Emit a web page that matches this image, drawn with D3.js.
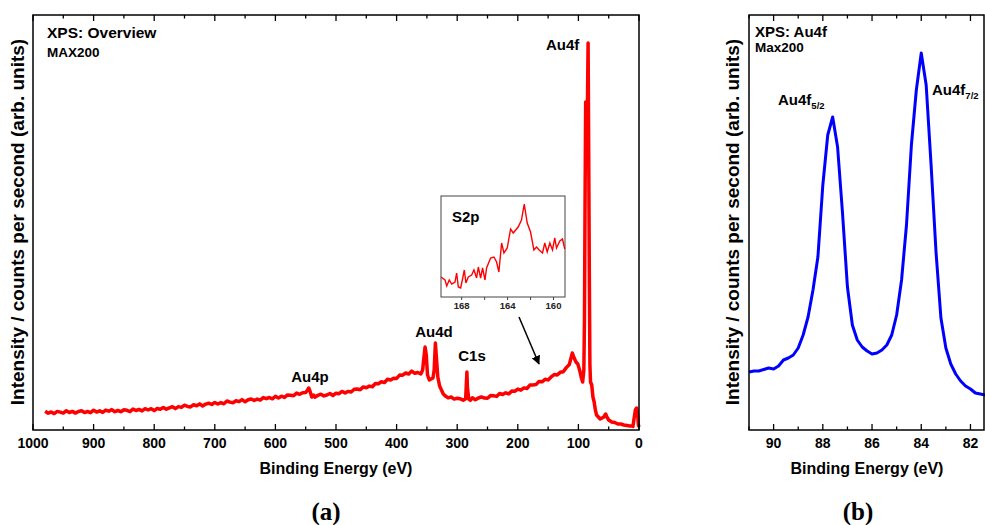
<!DOCTYPE html>
<html>
<head>
<meta charset="utf-8">
<script src="https://cdn.jsdelivr.net/npm/d3@7"></script>
<style>
  body { margin: 0; background: #fff; }
  svg text { font-family: "Liberation Sans", Arial, sans-serif; font-weight: bold; }
</style>
</head>
<body>
<svg id="chart" width="985" height="525"></svg>
<script>
// ---- DATA ----
// overview survey (binding energy in eV, counts in arb. units)
const overviewEnergy = [980,975,970,965,960,955,950,945,940,935,930,925,920,915,910,905,900,895,890,885,880,875,870,865,860,855,850,845,840,835,830,825,820,815,810,805,800,795,790,785,780,775,770,765,760,755,750,745,740,735,730,725,720,715,710,705,700,695,690,685,680,675,670,665,660,655,650,645,640,635,630,625,620,615,610,605,600,595,590,585,580,575,570,565,560,555,550,547,545,543,540,537,535,530,525,520,515,510,505,500,495,490,485,480,475,470,465,460,455,450,445,440,435,430,425,420,415,410,405,400,395,390,385,380,375,370,365,360,357,355,353,351,349,346,343,340,338,336,334,332,329,326,323,320,315,310,305,300,295,290,286,285,284,283,281,278,275,270,265,260,255,250,245,240,235,230,225,220,215,210,205,200,195,190,185,180,175,170,165,160,155,150,145,140,135,130,125,120,115,110,107,104,101,98,95,93,91,90,89,88,87,86,85,84,83,82,81,80,78,76,74,72,70,67,64,61,58,55,53,50,45,40,35,30,25,20,15,12,10,8,6,4,2,1,0];
const overviewCounts = [
    18.7,16.8,18,16.4,18.6,17.9,16.9,19.3,17.5,18.6,16.9,18.5,19.3,17.4,18.5,17.3,19.8,
    17.9,19.2,17.6,19.9,18.8,20.4,18.3,19.5,18.3,20.3,19.7,18.4,21,19.5,20.6,19.1,21.3,20,21.3,
    19.4,21.5,20.8,22.6,20.8,22.2,23.3,21.4,23.4,22.6,24.8,23.6,23.1,25.2,24.3,26.1,24,25.9,26.8,25.5,
    27.5,26,27.4,26.2,29,27.9,27.3,29.3,28.4,30.4,28.2,30.2,31,29.5,30.9,29.9,32.4,31.3,32.5,31.2,
    33.6,32,33.8,32.6,35.1,34.8,34.2,36.9,35.7,37.2,
    37.5,40,42,39,33,
    34.9,32.9,34.6,35.8,34.1,35,36.5,34.5,36.8,36.3,38.6,37,38.6,38,40.7,41,40.3,43.1,42.2,43.9,43.3,46.5,46.2,48.2,47.4,50.7,50,51.8,51.6,54.9,54.8,57,56,58.9,56.7,57.5,56,
    60,72,83,75,55,50,51,52,60,87,70,53,44,40,36,
    34.2,32.1,33,30.9,31.8,31.2,29.8,31.3,
    45,58,42,31,
    29.7,32.2,30.2,32,33.1,31.9,31.7,34.4,34.2,33.6,36.5,35.5,37.2,36.1,38.9,38.8,40.9,39.8,42.1,41.5,44.9,45.1,45.4,48.6,48.2,50.7,50.1,53.1,55.4,55.1,57.7,58.3,62.4,65.5,
    77,72,68,66,60,52,48,60,110,230,328,290,300,330,387,280,160,65,48,45,33,28,20,15,13,11,12,13,16,13,10,8,7.5,6,6,5,4.5,4,4,3.5,12,20,22,14,5,3];

// S2p inset
const s2pEnergy = [169.8,169.45,169.3,169.08,168.87,168.58,168.44,168.29,168.09,167.94,167.77,167.63,167.42,167.13,166.93,166.7,166.55,166.35,166.18,165.97,165.83,165.48,165.19,164.96,164.76,164.52,164.32,164.03,163.74,163.51,163.08,162.79,162.55,162.29,162.0,161.71,161.48,161.25,160.96,160.76,160.55,160.32,160.09,159.89,159.74,159.45,159.22,159.02];
const s2pCounts = [20,17,11,17,13,15,24,10,9,17,27,14,20,22,27,19,30,19,29,17,29,39,40,35,25,54,44,49,68,64,70,77,93,74,65,47,50,47,44,54,45,54,47,59,49,56,58,48];

// Au4f detail
const au4fEnergy = [91.0,90.8,90.6,90.4,90.2,90.0,89.8,89.6,89.4,89.2,89.0,88.8,88.6,88.4,88.2,88.0,87.8,87.6,87.4,87.2,87.0,86.8,86.6,86.4,86.2,86.0,85.8,85.6,85.4,85.2,85.0,84.8,84.6,84.4,84.2,84.0,83.8,83.6,83.4,83.2,83.0,82.8,82.6,82.4,82.2,82.0,81.8,81.6,81.4];
const au4fCounts = [58,59,59,60.5,62,61,64,70,72,75,82,95,113,140,173,245,295,313,283,217,143,105,90,83,79,76,77,80,85,95,115,150,205,285,340,377,345,265,178,112,82,66,56,49,44,41,37,36,35];

// tick values
const overviewTicks = [1000,900,800,700,600,500,400,300,200,100,0];
const au4fTicks = [90,88,86,84,82];
const s2pTicks = [168,164,160];

const svg = d3.select("#chart");

// frame + inward ticks on top and bottom
function drawFrame(g, x, y0, y1, major, minorStep) {
    const [xa, xb] = x.range();
    g.append("rect")
        .attr("x", xa).attr("y", y0)
        .attr("width", xb - xa).attr("height", y1 - y0)
        .attr("fill", "none").attr("stroke", "#000").attr("stroke-width", 1.5);

    const dom = x.domain();
    const lo = Math.min(dom[0], dom[1]), hi = Math.max(dom[0], dom[1]);
    const minor = d3.range(Math.ceil(lo / minorStep) * minorStep, hi + 1e-9, minorStep);

    minor.forEach(v => {
        const isMajor = major.includes(Math.round(v * 100) / 100);
        const len = isMajor ? 6 : 3.5;
        [[y1, -len], [y0, len]].forEach(([yy, d]) => {
            g.append("line")
                .attr("x1", x(v)).attr("x2", x(v))
                .attr("y1", yy).attr("y2", yy + d)
                .attr("stroke", "#000").attr("stroke-width", 1.3);
        });
    });

    g.selectAll(".tl").data(major).enter().append("text")
        .attr("x", d => x(d)).attr("y", y1 + 17.5)
        .attr("text-anchor", "middle")
        .attr("font-size", "14px")
        .text(d => d);
}

// ---- LEFT PANEL: overview ----
const plotTop = 15, plotBottom = 430;
const xL = d3.scaleLinear().domain([1000, 0]).range([33, 639]);
const yL = d3.scaleLinear().domain([0, 415]).range([plotBottom, plotTop]);
const gL = svg.append("g");

gL.append("path")
    .datum(d3.zip(overviewEnergy, overviewCounts))
    .attr("fill", "none").attr("stroke", "#ff0000")
    .attr("stroke-width", 3.5).attr("stroke-linejoin", "round")
    .attr("d", d3.line().x(d => xL(d[0])).y(d => yL(d[1])));

drawFrame(gL, xL, plotTop, plotBottom, overviewTicks, 50);

gL.append("text").attr("x", 336).attr("y", 474).attr("text-anchor", "middle")
    .attr("font-size", "16px").text("Binding Energy (eV)");
gL.append("text").attr("transform", "translate(24,222) rotate(-90)")
    .attr("text-anchor", "middle").attr("font-size", "19px")
    .text("Intensity / counts per second (arb. units)");

gL.append("text").attr("x", 47).attr("y", 38).attr("font-size", "15.5px").text("XPS: Overview");
gL.append("text").attr("x", 47).attr("y", 57).attr("font-size", "13.5px").text("MAX200");
gL.append("text").attr("x", 546).attr("y", 50).attr("font-size", "15px").text("Au4f");
gL.append("text").attr("x", 434).attr("y", 337).attr("text-anchor", "middle").attr("font-size", "15px").text("Au4d");
gL.append("text").attr("x", 310).attr("y", 382).attr("text-anchor", "middle").attr("font-size", "15px").text("Au4p");
gL.append("text").attr("x", 472).attr("y", 361).attr("text-anchor", "middle").attr("font-size", "15px").text("C1s");

// arrow towards S2p region
svg.append("defs").append("marker")
    .attr("id", "head").attr("viewBox", "0 0 10 10")
    .attr("refX", 9).attr("refY", 5)
    .attr("markerWidth", 9).attr("markerHeight", 9)
    .attr("orient", "auto").attr("markerUnits", "userSpaceOnUse")
    .append("path").attr("d", "M0,0 L10,5 L0,10 z").attr("fill", "#000");
gL.append("line")
    .attr("x1", 519).attr("y1", 317).attr("x2", 539).attr("y2", 364)
    .attr("stroke", "#000").attr("stroke-width", 1.5)
    .attr("marker-end", "url(#head)");

// inset S2p
const xI = d3.scaleLinear().domain([169.8, 159.0]).range([441, 565]);
const yI = d3.scaleLinear().domain([0, 101]).range([297, 196]);
const gI = gL.append("g");
gI.append("rect").attr("x", 441).attr("y", 196).attr("width", 124).attr("height", 101)
    .attr("fill", "#fff").attr("stroke", "#444").attr("stroke-width", 1);
gI.append("path")
    .datum(d3.zip(s2pEnergy, s2pCounts))
    .attr("fill", "none").attr("stroke", "#ff0000").attr("stroke-width", 1.4)
    .attr("d", d3.line().x(d => xI(d[0])).y(d => yI(d[1])));
[162, 164, 166, 168, 160].forEach(v => {
    gI.append("line").attr("x1", xI(v)).attr("x2", xI(v))
        .attr("y1", 297).attr("y2", 300).attr("stroke", "#444").attr("stroke-width", 1);
});
gI.selectAll(".it").data(s2pTicks).enter().append("text")
    .attr("x", d => xI(d)).attr("y", 309).attr("text-anchor", "middle")
    .attr("font-size", "9.5px").attr("font-weight", "normal").attr("fill", "#222")
    .text(d => d);
gI.append("text").attr("x", 452).attr("y", 222).attr("font-size", "15px").text("S2p");

// ---- RIGHT PANEL: Au4f ----
const xR = d3.scaleLinear().domain([91, 81.45]).range([749, 984]);
const yR = d3.scaleLinear().domain([0, 415]).range([plotBottom, plotTop]);
const gR = svg.append("g");

gR.append("path")
    .datum(d3.zip(au4fEnergy, au4fCounts))
    .attr("fill", "none").attr("stroke", "#0000ff")
    .attr("stroke-width", 3).attr("stroke-linejoin", "round")
    .attr("d", d3.line().x(d => xR(d[0])).y(d => yR(d[1])));

drawFrame(gR, xR, plotTop, plotBottom, au4fTicks, 1);

gR.append("text").attr("x", 867).attr("y", 474).attr("text-anchor", "middle")
    .attr("font-size", "16px").text("Binding Energy (eV)");
gR.append("text").attr("transform", "translate(739,222) rotate(-90)")
    .attr("text-anchor", "middle").attr("font-size", "19px")
    .text("Intensity / counts per second (arb. units)");

gR.append("text").attr("x", 755).attr("y", 37).attr("font-size", "15px").text("XPS: Au4f");
gR.append("text").attr("x", 755).attr("y", 52).attr("font-size", "13.5px").text("Max200");

const l52 = gR.append("text").attr("x", 778).attr("y", 105).attr("font-size", "15px");
l52.append("tspan").text("Au4f");
l52.append("tspan").attr("font-size", "9.5px").attr("dy", 4).text("5/2");
const l72 = gR.append("text").attr("x", 932).attr("y", 95).attr("font-size", "15px");
l72.append("tspan").text("Au4f");
l72.append("tspan").attr("font-size", "9.5px").attr("dy", 4).text("7/2");

// ---- captions ----
[["(a)", 326], ["(b)", 858]].forEach(([t, cx]) => {
    svg.append("text").attr("x", cx).attr("y", 520).attr("text-anchor", "middle")
        .style("font-family", "'Liberation Serif', 'DejaVu Serif', serif")
        .style("font-weight", "bold").attr("font-size", "25px").text(t);
});
</script>
</body>
</html>
